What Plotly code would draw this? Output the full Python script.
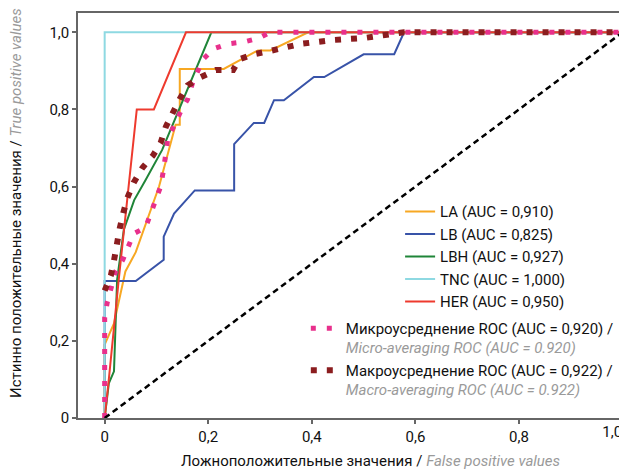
import plotly.graph_objects as go

# ---- data ----
classes = ["LA", "LB", "LBH", "TNC", "HER"]
auc_text = ["0,910", "0,825", "0,927", "1,000", "0,950"]

la_fpr = [0, 0, 0.018, 0.04, 0.06, 0.105, 0.137, 0.145, 0.145, 0.23, 0.296, 0.32, 0.393, 1.0]
la_tpr = [0, 0.19, 0.245, 0.38, 0.43, 0.60, 0.76, 0.76, 0.905, 0.905, 0.953, 0.953, 1.0, 1.0]

lb_fpr = [0, 0, 0.06, 0.114, 0.114, 0.134, 0.174, 0.25, 0.25, 0.288, 0.308, 0.327, 0.346,
          0.404, 0.424, 0.50, 0.559, 0.578, 1.0]
lb_tpr = [0, 0.355, 0.355, 0.41, 0.47, 0.53, 0.59, 0.59, 0.71, 0.765, 0.765, 0.824, 0.824,
          0.884, 0.884, 0.943, 0.943, 1.0, 1.0]

lbh_fpr = [0, 0.008, 0.018, 0.024, 0.037, 0.057, 0.079, 0.111, 0.206, 1.0]
lbh_tpr = [0, 0.09, 0.121, 0.358, 0.488, 0.565, 0.617, 0.695, 1.0, 1.0]

tnc_fpr = [0, 0, 1.0]
tnc_tpr = [0, 1.0, 1.0]

her_fpr = [0, 0.008, 0.027, 0.045, 0.062, 0.095, 0.157, 1.0]
her_tpr = [0, 0.10, 0.357, 0.58, 0.80, 0.80, 1.0, 1.0]

micro_fpr = [0, 0, 0.005, 0.012, 0.021, 0.035, 0.044, 0.056, 0.079, 0.089, 0.108, 0.114,
             0.118, 0.122, 0.137, 0.147, 0.16, 0.17, 0.19, 0.21, 0.238, 0.269, 0.298, 0.32, 1.0]
micro_tpr = [0, 0.26, 0.30, 0.34, 0.38, 0.41, 0.44, 0.478, 0.494, 0.53, 0.60, 0.646,
             0.684, 0.726, 0.765, 0.796, 0.826, 0.87, 0.93, 0.957, 0.97, 0.975, 0.985, 1.0, 1.0]

macro_fpr = [0, 0.012, 0.018, 0.023, 0.029, 0.036, 0.044, 0.056, 0.073, 0.093, 0.108,
             0.118, 0.131, 0.145, 0.16, 0.186, 0.215, 0.248, 0.26, 0.288, 0.317, 0.346,
             0.379, 0.441, 0.50, 0.578, 1.0]
macro_tpr = [0.33, 0.37, 0.408, 0.452, 0.491, 0.532, 0.571, 0.61, 0.649, 0.68, 0.713,
             0.755, 0.793, 0.827, 0.862, 0.884, 0.902, 0.902, 0.93, 0.943, 0.951, 0.961,
             0.97, 0.98, 0.985, 1.0, 1.0]

diag = [0, 1]

tick_vals = [0, 0.2, 0.4, 0.6, 0.8, 1.0]
x_tick_text = ["0", "0,2", "0,4", "0,6", "0,8", ""]
x_last_tick_val = [1.0]
x_last_tick_text = ["1,0"]
y_tick_text = ["0", "0,2", "0,4", "0,6", "0,8", "1,0"]

FONT = "Roboto, Liberation Sans, sans-serif"
FS = 15
GRAY = "#9a9a9a"
INK = "#111111"
X_RANGE = [-0.0515, 1.0008]

class_x = [la_fpr, lb_fpr, lbh_fpr, tnc_fpr, her_fpr]
class_y = [la_tpr, lb_tpr, lbh_tpr, tnc_tpr, her_tpr]
class_colors = ["#F7A823", "#3853A8", "#1F8538", "#8ED9E2", "#EE3A2E"]

fig = go.Figure()

for name, auc, xs, ys, col in zip(classes, auc_text, class_x, class_y, class_colors):
    fig.add_trace(go.Scatter(x=xs, y=ys, mode="lines", name=f"{name} (AUC = {auc})",
                             line=dict(color=col, width=2), legend="legend"))

fig.add_trace(go.Scatter(
    x=micro_fpr, y=micro_tpr, mode="lines", legend="legend2", legendgroup="micro",
    name=("Микроусреднение ROC (AUC = 0,920) /<br>"
          f"<i><span style='color:{GRAY}'>Micro-averaging ROC (AUC = 0.920)</span></i>"),
    line=dict(color="#E8308C", width=5, dash="5px,11px")))
fig.add_trace(go.Scatter(
    x=macro_fpr, y=macro_tpr, mode="lines", legend="legend2", legendgroup="macro",
    name=("Макроусреднение ROC (AUC = 0,922) /<br>"
          f"<i><span style='color:{GRAY}'>Macro-averaging ROC (AUC = 0.922)</span></i>"),
    line=dict(color="#8B1D1F", width=6, dash="6px,10px")))

# chance diagonal, placed on the overlaying x axis (same range) that carries the last tick label
fig.add_trace(go.Scatter(x=diag, y=diag, mode="lines", showlegend=False, xaxis="x2",
                         line=dict(color="black", width=2.5, dash="6px,4px")))

axis_common = dict(showline=True, linecolor="#666666", linewidth=1.5, mirror=True,
                   ticks="outside", ticklen=4, tickcolor="#666666", tickwidth=1.5,
                   showgrid=False, zeroline=False, tickvals=tick_vals, automargin=False,
                   tickfont=dict(family=FONT, size=FS, color=INK))

# the page body adds an 8px offset; the figure is sized so the plot lands where the reference has it
fig.update_layout(
    width=619, height=464,
    margin=dict(l=70, r=4, t=4.5, b=53.5, autoexpand=False),
    paper_bgcolor="white", plot_bgcolor="white",
    font=dict(family=FONT, size=FS, color=INK),
    xaxis=dict(range=X_RANGE, ticktext=x_tick_text, **axis_common),
    xaxis2=dict(range=X_RANGE, overlaying="x", anchor="y", side="bottom",
                tickvals=x_last_tick_val, ticktext=x_last_tick_text,
                ticks="outside", ticklen=4, tickcolor="rgba(0,0,0,0)",
                ticklabelposition="outside left", showline=False, showgrid=False,
                zeroline=False, automargin=False,
                tickfont=dict(family=FONT, size=FS, color=INK)),
    yaxis=dict(range=[0, 1.05], ticktext=y_tick_text, **axis_common),
    legend=dict(x=0.591, y=0.55, xanchor="left", yanchor="top", bgcolor="rgba(0,0,0,0)",
                font=dict(family=FONT, size=FS, color=INK), tracegroupgap=0),
    legend2=dict(x=0.418, y=0.262, xanchor="left", yanchor="top", bgcolor="rgba(0,0,0,0)",
                 valign="top", font=dict(family=FONT, size=FS, color=INK),
                 tracegroupgap=0),
    annotations=[
        dict(text=f"Ложноположительные значения / <i><span style='color:{GRAY}'>False positive values</span></i>",
             xref="paper", yref="paper", x=0.536, y=-0.107, xanchor="center", yanchor="middle",
             showarrow=False, font=dict(family=FONT, size=FS, color=INK)),
        dict(text=f"Истинно положительные значения / <i><span style='color:{GRAY}'>True positive values</span></i>",
             xref="paper", yref="paper", x=-0.1137, y=0.531, xanchor="center", yanchor="middle",
             textangle=-90, showarrow=False, font=dict(family=FONT, size=FS, color=INK)),
    ],
)

fig.write_html("out.html")
